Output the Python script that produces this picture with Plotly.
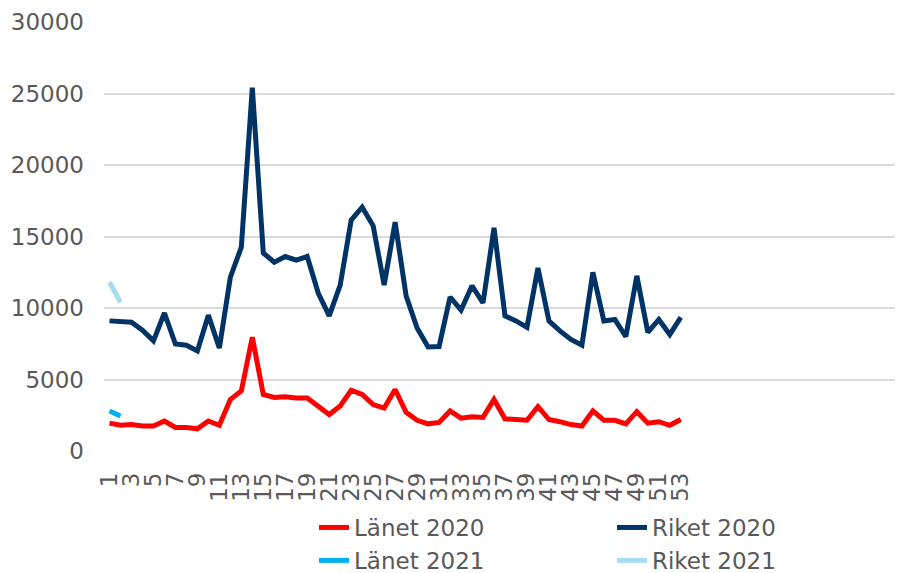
import plotly.graph_objects as go

weeks = list(range(1, 54))
lanet_2020 = [1950, 1800, 1850, 1750, 1750, 2100, 1650, 1650, 1550, 2100,
              1800, 3600, 4200, 7950, 3950, 3750, 3800, 3700, 3700, 3100,
              2550, 3150, 4250, 3950, 3250, 3000, 4300, 2700, 2150, 1900,
              2000, 2800, 2300, 2400, 2350, 3600, 2250, 2200, 2150, 3100,
              2200, 2050, 1850, 1750, 2800, 2150, 2150, 1900, 2750, 1950,
              2050, 1800, 2200]
riket_2020 = [9100, 9050, 9000, 8450, 7700, 9650, 7480, 7400, 7000, 9500,
              7200, 12150, 14250, 25400, 13850, 13200, 13600, 13350, 13600, 11050,
              9450, 11600, 16150, 17050, 15750, 11600, 16000, 10850, 8600, 7270,
              7300, 10770, 9850, 11550, 10350, 15600, 9450, 9100, 8650, 12800,
              9100, 8400, 7800, 7400, 12500, 9100, 9200, 8000, 12250, 8300,
              9200, 8150, 9350]
weeks_2021 = [1, 2]
lanet_2021 = [2800, 2450]
riket_2021 = [11800, 10400]

y_ticks = [0, 5000, 10000, 15000, 20000, 25000, 30000]
x_ticks = list(range(1, 54, 2))

font_family = "DejaVu Sans"
gray = "#595959"

fig = go.Figure()
fig.add_trace(go.Scatter(x=weeks, y=lanet_2020, mode="lines", name="Länet 2020",
                         line=dict(color="#FF0000", width=5)))
fig.add_trace(go.Scatter(x=weeks, y=riket_2020, mode="lines", name="Riket 2020",
                         line=dict(color="#003366", width=5)))
fig.add_trace(go.Scatter(x=weeks_2021, y=lanet_2021, mode="lines", name="Länet 2021",
                         line=dict(color="#00B0F0", width=5)))
fig.add_trace(go.Scatter(x=weeks_2021, y=riket_2021, mode="lines", name="Riket 2021",
                         line=dict(color="#A6DCF2", width=5)))

fig.update_layout(
    width=906, height=573,
    margin=dict(l=96, r=19, t=14, b=130),
    paper_bgcolor="white", plot_bgcolor="white",
    font=dict(family=font_family, color=gray, size=23),
    showlegend=True,
    legend=dict(orientation="h", xref="container", yref="container",
                x=306 / 906, xanchor="left", y=1 - 498 / 573, yanchor="top",
                entrywidth=253, font=dict(size=23, color=gray),
                traceorder="normal", tracegroupgap=0, bgcolor="rgba(0,0,0,0)"),
    xaxis=dict(range=[0.5, 72.5], tickmode="array", tickvals=x_ticks,
               ticktext=[str(t) for t in x_ticks], tickangle=-90,
               showgrid=False, zeroline=False, showline=False, automargin=False,
               tickfont=dict(size=23, color=gray), ticks="", ticklabelstandoff=16),
    yaxis=dict(range=[0, 30000], tickmode="array", tickvals=y_ticks,
               ticktext=[str(t) for t in y_ticks], automargin=False,
               showgrid=True, gridcolor="#D9D9D9", gridwidth=2,
               zeroline=False, showline=False, ticks="",
               tickfont=dict(size=23, color=gray), ticklabelstandoff=19),
)

fig.write_html("out.html")
